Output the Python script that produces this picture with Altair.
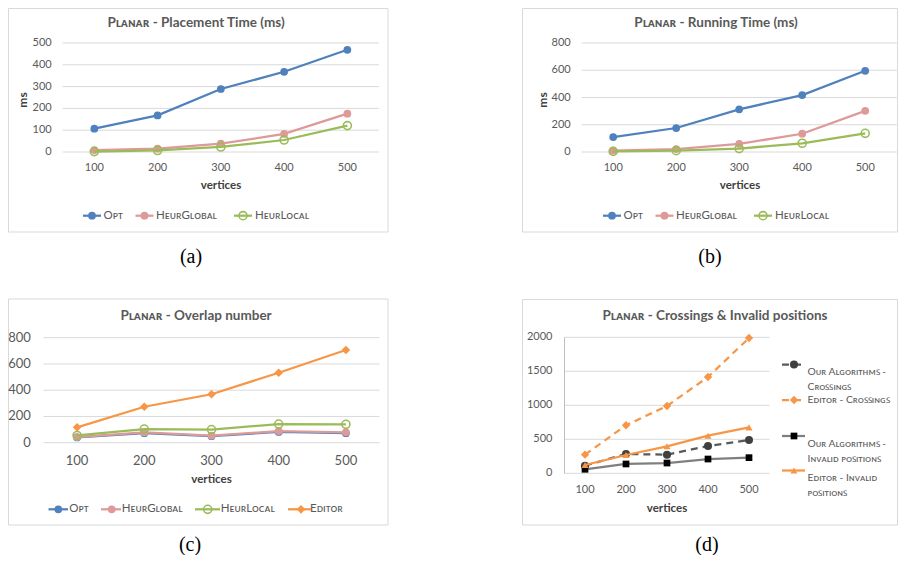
import altair as alt
import pandas as pd

FONT = "Lato"
SERIF = "Liberation Serif"
GRAY = "#595959"
DARK = "#404040"
GRID = "#D9D9D9"
M = 8  # page margin: page coordinate -> chart coordinate

vertices = ["100", "200", "300", "400", "500"]

# (a) Placement time (ms)
a_names = ["Opt", "HeurGlobal", "HeurLocal"]
a_opt = [107, 168, 289, 368, 469]
a_hglobal = [9, 15, 38, 83, 176]
a_hlocal = [2, 7, 23, 55, 121]
a_yticks = [0, 100, 200, 300, 400, 500]

# (b) Running time (ms)
b_names = ["Opt", "HeurGlobal", "HeurLocal"]
b_opt = [110, 176, 313, 418, 596]
b_hglobal = [10, 22, 59, 134, 302]
b_hlocal = [4, 10, 25, 64, 137]
b_yticks = [0, 200, 400, 600, 800]

# (c) Overlap number
c_names = ["Opt", "HeurGlobal", "HeurLocal", "Editor"]
c_opt = [40, 72, 50, 82, 72]
c_hglobal = [43, 78, 53, 89, 79]
c_hlocal = [55, 104, 100, 142, 140]
c_editor = [117, 274, 369, 533, 706]
c_yticks = [0, 200, 400, 600, 800]

# (d) Crossings & invalid positions
d_names = ["Our Algorithms - Crossings", "Editor  - Crossings",
           "Our Algorithms - Invalid positions", "Editor - Invalid positions"]
d_our_cross = [112, 284, 274, 401, 490]
d_ed_cross = [274, 706, 990, 1416, 1990]
d_our_invalid = [59, 137, 151, 210, 230]
d_ed_invalid = [122, 269, 397, 553, 676]
d_yticks = [0, 500, 1000, 1500, 2000]

SC = {"a": "ᴀ", "b": "ʙ", "c": "ᴄ", "d": "ᴅ", "e": "ᴇ", "g": "ɢ", "h": "ʜ",
      "i": "ɪ", "l": "ʟ", "m": "ᴍ", "n": "ɴ", "o": "ᴏ", "p": "ᴘ", "r": "ʀ",
      "s": "ꜱ", "t": "ᴛ", "u": "ᴜ", "v": "ᴠ"}


def smallcaps(s):
    return "".join(SC.get(ch, ch) for ch in s)


STYLE = {
    "Opt": dict(line="#4F81BD", marker="#4F81BD", shape="circle", filled=True, dash=None, size=60),
    "HeurGlobal": dict(line="#DD9A99", marker="#DD9A99", shape="circle", filled=True, dash=None, size=60),
    "HeurLocal": dict(line="#9BBB59", marker="#9BBB59", shape="circle", filled=False, dash=None, size=65),
    "Editor": dict(line="#F79646", marker="#F79646", shape="diamond", filled=True, dash=None, size=75),
    "Our Algorithms - Crossings": dict(line="#595959", marker="#404040", shape="circle", filled=True, dash=[7, 5], size=65),
    "Editor  - Crossings": dict(line="#F79646", marker="#F79646", shape="diamond", filled=True, dash=[7, 5], size=70),
    "Our Algorithms - Invalid positions": dict(line="#7F7F7F", marker="#000000", shape="square", filled=True, dash=None, size=45),
    "Editor - Invalid positions": dict(line="#F79646", marker="#F79646", shape="triangle-up", filled=True, dash=None, size=50),
}

DISPLAY = {
    "Opt": smallcaps("Opt"),
    "HeurGlobal": smallcaps("HeurGlobal"),
    "HeurLocal": smallcaps("HeurLocal"),
    "Editor": smallcaps("Editor"),
    "Our Algorithms - Crossings": smallcaps("Our Algorithms -") + "\n" + smallcaps("Crossings"),
    "Editor  - Crossings": smallcaps("Editor  - Crossings"),
    "Our Algorithms - Invalid positions": smallcaps("Our Algorithms -") + "\n" + smallcaps("Invalid positions"),
    "Editor - Invalid positions": smallcaps("Editor - Invalid") + "\n" + smallcaps("positions"),
}

ONE = alt.Data(values=[{"k": 0}])


def point_kw(st):
    kw = dict(shape=st["shape"], size=st["size"], opacity=1)
    if st["filled"]:
        kw.update(filled=True, color=st["marker"])
    else:
        kw.update(filled=False, color=st["marker"], strokeWidth=1.6)
    return kw


def line_kw(st):
    kw = dict(color=st["line"], strokeWidth=2.25)
    if st["dash"]:
        kw["strokeDash"] = st["dash"]
    return kw


def txt(text, x, y, **kw):
    return alt.Chart(alt.Data(values=[{"t": text}])).mark_text(**kw).encode(
        x=alt.value(x - M), y=alt.value(y - M), text="t:N")


def panel(geom, names, values, yticks, title, legend, xtitle, ytitle, caption,
          lab_size=11, xlab_y=167.7, ylab_gap=11, ydomain=False, leg_size=11.5):
    L, T, W, H = geom["plot"]
    bx0, by0, bx1, by1 = geom["box"]
    x0, x1 = L - M, L - M + W
    ytop, ybot = T - M, T - M + H
    xscale = alt.Scale(type="point", domain=vertices, range=[x0, x1], padding=0.5)
    yscale = alt.Scale(domain=[0, yticks[-1]], range=[ybot, ytop], nice=False, zero=True)
    xenc = alt.X("vertices:O", sort=vertices, scale=xscale, axis=None)
    yenc = alt.Y("value:Q", scale=yscale, axis=None)

    layers = []
    # frame
    layers.append(alt.Chart(ONE).mark_rect(filled=False, stroke=GRID, strokeWidth=1).encode(
        x=alt.value(bx0 - M), x2=alt.value(bx1 - M), y=alt.value(by0 - M), y2=alt.value(by1 - M)))
    # gridlines and y tick labels
    ticks_df = pd.DataFrame({"value": yticks})
    layers.append(alt.Chart(ticks_df).mark_rule(color=GRID, strokeWidth=1).encode(
        y=yenc, x=alt.value(x0), x2=alt.value(x1)))
    layers.append(alt.Chart(ticks_df).mark_text(
        font=FONT, fontSize=lab_size, color=GRAY, align="right", baseline="middle").encode(
        y=yenc, x=alt.value(x0 - ylab_gap), text=alt.Text("value:Q", format="d")))
    if ydomain:
        layers.append(alt.Chart(ONE).mark_rule(color="#BFBFBF", strokeWidth=1).encode(
            x=alt.value(x0), y=alt.value(ytop), y2=alt.value(ybot)))
    # x tick labels
    xl_df = pd.DataFrame({"vertices": vertices})
    layers.append(alt.Chart(xl_df).mark_text(
        font=FONT, fontSize=lab_size, color=GRAY, align="center", baseline="middle").encode(
        x=xenc, y=alt.value(xlab_y - M), text="vertices:N"))
    # series
    for name, vals in zip(names, values):
        st = STYLE[name]
        df = pd.DataFrame({"vertices": vertices, "value": vals})
        base = alt.Chart(df).encode(x=xenc, y=yenc)
        layers.append(base.mark_line(**line_kw(st)))
        layers.append(base.mark_point(**point_kw(st)))
    # title
    layers.append(txt(title[0], *title[1], font=FONT, fontSize=13.5, fontWeight="bold",
                      color=GRAY, align="center", baseline="middle"))
    # axis titles
    layers.append(txt("vertices", *xtitle, font=FONT, fontSize=11.5, fontWeight="bold",
                      color=DARK, align="center", baseline="middle"))
    if ytitle is not None:
        layers.append(txt("ms", *ytitle, font=FONT, fontSize=12, fontWeight="bold", color=DARK,
                          align="center", baseline="middle", angle=270))
    # legend
    for (name, m, y, lx1, lx2, tx_, ty_) in legend:
        st = STYLE[name]
        d = alt.Data(values=[{"label": DISPLAY[name]}])
        layers.append(alt.Chart(d).mark_rule(**line_kw(st)).encode(
            x=alt.value(lx1 - M), x2=alt.value(lx2 - M), y=alt.value(y - M)))
        layers.append(alt.Chart(d).mark_point(**point_kw(st)).encode(
            x=alt.value(m - M), y=alt.value(y - M)))
        layers.append(alt.Chart(d).mark_text(
            font=FONT, fontSize=leg_size, color=GRAY, align="left", baseline="middle",
            lineBreak="\n", lineHeight=15
        ).encode(x=alt.value(tx_ - M), y=alt.value(ty_ - M), text="label:N"))
    # caption
    layers.append(txt(caption[0], *caption[1], font=SERIF, fontSize=20, color="#000000",
                      align="center", baseline="middle"))
    return alt.layer(*layers)


# page-coordinate layout of each panel: plot area (left, top, width, height) and frame
GEOM = {
    "a": dict(plot=(62.7, 43, 316.3, 109), box=(8.5, 8.5, 388, 232)),
    "b": dict(plot=(581.7, 43, 315, 109), box=(522.5, 8.5, 897.5, 232)),
    "c": dict(plot=(43.5, 337.7, 336, 105), box=(8.5, 299, 388, 525)),
    "d": dict(plot=(564.5, 337.3, 205, 136), box=(522.5, 299.5, 897.5, 525)),
}

PL = smallcaps("Planar")

leg_a = [("Opt", 92, 215.7, 83, 101, 103.5, 215.7),
         ("HeurGlobal", 144.5, 215.7, 135.5, 153.5, 156, 215.7),
         ("HeurLocal", 243, 215.7, 234, 252, 255, 215.7)]
leg_b = [(n, m + 520, y, x1 + 520, x2 + 520, t + 520, ty) for (n, m, y, x1, x2, t, ty) in leg_a]
leg_c = [("Opt", 58.3, 509.3, 48.5, 68, 69.3, 509.3),
         ("HeurGlobal", 111.7, 509.3, 101, 121, 121.7, 509.3),
         ("HeurLocal", 207.7, 509.3, 195, 220, 220.7, 509.3),
         ("Editor", 301, 509.3, 288, 311, 310, 509.3)]
leg_d = [(d_names[0], 794, 364.5, 782, 805, 807.5, 372),
         (d_names[1], 794, 400, 782, 805, 807.5, 400),
         (d_names[2], 794, 436, 782, 805, 807.5, 443.5),
         (d_names[3], 794, 470.5, 782, 805, 807.5, 478)]

pa = panel(GEOM["a"], a_names, [a_opt, a_hglobal, a_hlocal], a_yticks,
           (PL + " - Placement Time (ms)", (196, 22.5)), leg_a, (221, 186), (23, 100),
           ("(a)", (191, 257)))
pb = panel(GEOM["b"], b_names, [b_opt, b_hglobal, b_hlocal], b_yticks,
           (PL + " - Running Time (ms)", (716, 22.5)), leg_b, (740, 186), (543, 100),
           ("(b)", (710, 257)))
pc = panel(GEOM["c"], c_names, [c_opt, c_hglobal, c_hlocal, c_editor], c_yticks,
           (PL + " - Overlap number", (196, 316)), leg_c, (211.5, 480), None,
           ("(c)", (190, 545)), lab_size=13, xlab_y=461, ylab_gap=12.6)
pd_ = panel(GEOM["d"], d_names, [d_our_cross, d_ed_cross, d_our_invalid, d_ed_invalid], d_yticks,
            (PL + " - Crossings & Invalid positions", (715, 316)), leg_d, (667, 508.5), None,
            ("(d)", (707, 545)), xlab_y=490, ylab_gap=12, ydomain=True, leg_size=10.3)

chart = alt.layer(pa, pb, pc, pd_).resolve_scale(
    x="independent", y="independent"
).properties(
    width=890, height=547, padding=0,
    autosize=alt.AutoSizeParams(type="none"),
).configure_view(strokeWidth=0)

chart.save("out.html", embed_options={"renderer": "svg", "actions": False})
